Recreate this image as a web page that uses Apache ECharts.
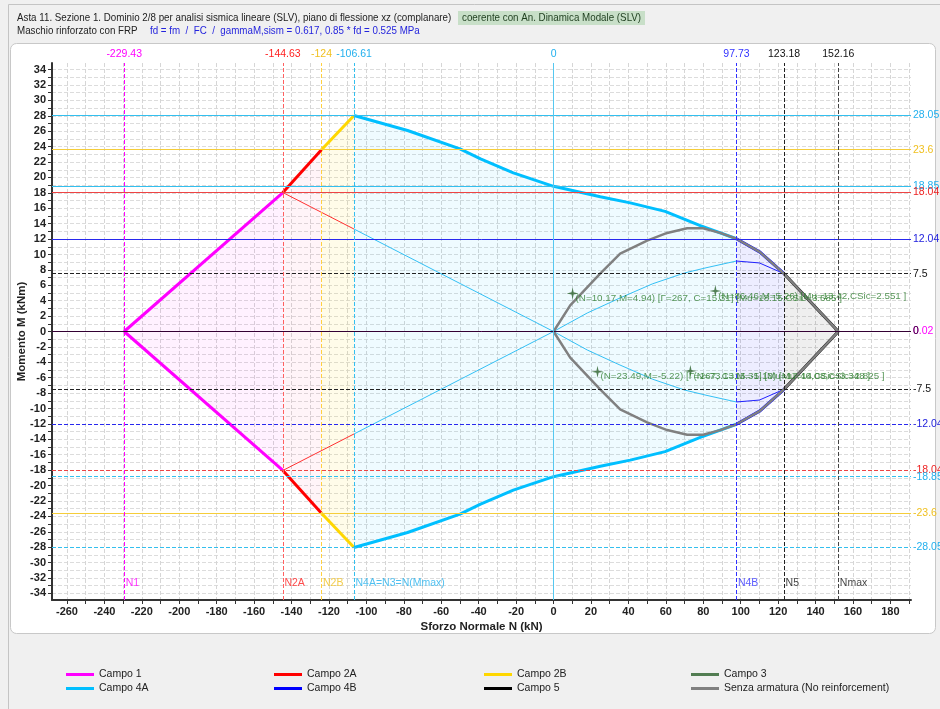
<!DOCTYPE html>
<html><head><meta charset="utf-8">
<script src="https://cdn.jsdelivr.net/npm/echarts@6/dist/echarts.min.js"></script>
<style>html,body{margin:0;padding:0;background:#f0f0f0;}#c{width:940px;height:709px;}</style>
</head><body><div id="c"></div>
<script>
// ---------- data ----------
const campo1Up = [[-229.43, 0], [-144.63, 18.04]];
const campo1Dn = [[-229.43, 0], [-144.63, -18.04]];
const campo2AUp = [[-144.63, 18.04], [-124, 23.6]];
const campo2ADn = [[-144.63, -18.04], [-124, -23.6]];
const campo2BUp = [[-124, 23.6], [-106.61, 28.05]];
const campo2BDn = [[-124, -23.6], [-106.61, -28.05]];
const campo4AUp = [[-106.61, 28.05], [-78, 26.1], [-50, 23.7], [-39, 22.4], [-21.5, 20.6], [0, 18.85], [25, 17.5], [41, 16.7], [59.6, 15.6], [78.4, 13.75], [97.73, 12.04]];
const campo4ADn = [[-106.61, -28.05], [-78, -26.1], [-50, -23.7], [-39, -22.4], [-21.5, -20.6], [0, -18.85], [25, -17.5], [41, -16.7], [59.6, -15.6], [78.4, -13.75], [97.73, -12.04]];
const campo4BUp = [[97.73, 12.04], [110.3, 10.3], [123.18, 7.5]];
const campo4BDn = [[97.73, -12.04], [110.3, -10.3], [123.18, -7.5]];
const campo5Up = [[123.18, 7.5], [152.16, 0]];
const campo5Dn = [[123.18, -7.5], [152.16, 0]];
const noReinfUp = [[0, 0], [8.9, 3.4], [24.9, 7.5], [35.6, 10.1], [50, 11.8], [60.7, 12.8], [71.4, 13.4], [79.9, 13.4], [89, 12.8], [97.73, 12.04], [110.3, 10.3], [123.18, 7.5], [152.16, 0]];
const noReinfDn = [[0, 0], [8.9, -3.4], [24.9, -7.5], [35.6, -10.1], [50, -11.8], [60.7, -12.8], [71.4, -13.4], [79.9, -13.4], [89, -12.8], [97.73, -12.04], [110.3, -10.3], [123.18, -7.5], [152.16, 0]];
const thinRedUp = [[-144.63, 18.04], [-106.61, 13.3]];
const thinRedDn = [[-144.63, -18.04], [-106.61, -13.3]];
const thinCyanUp = [[-106.61, 13.3], [0, 0], [18, 2.4], [35, 4.3], [53, 6.2], [70, 7.6], [82, 8.3], [97.73, 9.15]];
const thinCyanDn = [[-106.61, -13.3], [0, 0], [18, -2.4], [35, -4.3], [53, -6.2], [70, -7.6], [82, -8.3], [97.73, -9.15]];
const thinBlueUp = [[97.73, 9.15], [110, 8.9], [123.18, 7.5]];
const thinBlueDn = [[97.73, -9.15], [110, -8.9], [123.18, -7.5]];

const campo3Points = [[10.17, 4.94], [86.46, 5.26], [23.49, -5.22], [73.13, -5.13]];
const campo3Texts = [
  '(N=10.17,M=4.94) [Γ=267, C=15.31] [Mu=18.15,CSic=3.685 ]',
  '(N=86.46,M=5.26) [Mu=13.42,CSic=2.551 ]',
  '(N=23.49,M=-5.22) [Γ=267, C=15.31] [Mu=17.46,CSic=3.348 ]',
  '(N=73.13,M=-5.13) [Mu=14.08,CSic=2.825 ]'
];

const hVals  = [28.05, 23.6, 18.85, 18.04, 12.04, 7.5, 0.02, 0, -7.5, -12.04, -18.04, -18.85, -23.6, -28.05];
const hLeft  = ['Mu(N4A=N3=N(Mmax))', 'Mu(N2B)', '', 'Mu(N2A)', 'Mu(N4B)', 'Mu(N5)', 'Mu(N1)', 'Mu(Nmax)', 'Mu(N5)', 'Mu(N4B)', 'Mu(N2A)', '', 'Mu(N2B)', 'Mu(N4A=N3=N(Mmin))'];
const hRight = ['28.05', '23.6', '18.85', '18.04', '12.04', '7.5', '0.02', '0', '-7.5', '-12.04', '-18.04', '-18.85', '-23.6', '-28.05'];

const vVals   = [-229.43, -144.63, -124, -106.61, 0, 97.73, 123.18, 152.16];
const vTop    = ['-229.43', '-144.63', '-124', '-106.61', '0', '97.73', '123.18', '152.16'];
const vBottom = ['N1', 'N2A', 'N2B', 'N4A=N3=N(Mmax)', '', 'N4B', 'N5', 'Nmax'];
const vBottomM = -32.7;

const xLabelVals = [-260, -240, -220, -200, -180, -160, -140, -120, -100, -80, -60, -40, -20, 0, 20, 40, 60, 80, 100, 120, 140, 160, 180];
const yLabelVals = [-34, -32, -30, -28, -26, -24, -22, -20, -18, -16, -14, -12, -10, -8, -6, -4, -2, 0, 2, 4, 6, 8, 10, 12, 14, 16, 18, 20, 22, 24, 26, 28, 30, 32, 34];

// ---------- styles ----------
const FONT = '"Liberation Sans", Arial, sans-serif';
const C = {
  mag: '#ff00ff', red: '#ff0000', yel: '#ffd700', cyan: '#00bfff', blue: '#0000ff',
  black: '#000000', green: '#008000', gray: '#808080'
};
const hColor = ['#33bfee', '#f5cd3a', '#33bfee', '#ee4444', '#2828ee', '#222', '#ff00ff', '#330033', '#222', '#2828ee', '#ee4444', '#33bfee', '#f5cd3a', '#33bfee'];
const hText  = ['#22b0ee', '#f0c020', '#22b0ee', '#ee2222', '#2222dd', '#111', '#ff00ff', '#330033', '#111', '#2222dd', '#ee2222', '#22b0ee', '#f0c020', '#22b0ee'];
const hType  = ['solid', 'solid', 'solid', 'solid', 'solid', 'dashed', 'solid', 'solid', 'dashed', 'dashed', 'dashed', 'dashed', 'solid', 'dashed'];
const vColor = ['#ff00ff', '#ff6060', '#ffd040', '#33bfee', '#55c8f0', '#3030ff', '#222', '#444'];
const vText  = ['#ff00ff', '#ff2020', '#f0c020', '#22b0ee', '#22b0ee', '#3333ff', '#111', '#111'];
const vType  = ['dashed', 'dashed', 'dashed', 'dashed', 'solid', 'dashed', 'dashed', 'dashed'];

const xTickVals = [];
for (let v = -260; v <= 190; v += 10) xTickVals.push(v);
const yTickVals = [];
for (let v = -34; v <= 34; v += 1) yTickVals.push(v);

function ln(name, data, color, width, area, z) {
  const s = {
    type: 'line', name, data, showSymbol: false, symbol: 'none', smooth: false, z: z || 2,
    color, lineStyle: { color, width }, silent: true, animation: false
  };
  if (area) s.areaStyle = { color: area, origin: 0 };
  return s;
}

const series = [
  ln('Campo 1', campo1Up, C.mag, 3, 'rgba(255,0,255,0.08)'),
  ln('Campo 1', campo1Dn, C.mag, 3, 'rgba(255,0,255,0.08)'),
  ln('Campo 2A', campo2AUp, C.red, 3, 'rgba(255,60,120,0.08)'),
  ln('Campo 2A', campo2ADn, C.red, 3, 'rgba(255,60,120,0.08)'),
  ln('Campo 2B', campo2BUp, C.yel, 3, 'rgba(255,215,0,0.12)'),
  ln('Campo 2B', campo2BDn, C.yel, 3, 'rgba(255,215,0,0.12)'),
  ln('Campo 4A', campo4AUp, C.cyan, 3, 'rgba(0,191,255,0.09)'),
  ln('Campo 4A', campo4ADn, C.cyan, 3, 'rgba(0,191,255,0.09)'),
  ln('Campo 4B', campo4BUp, C.blue, 3, 'rgba(0,0,255,0.10)'),
  ln('Campo 4B', campo4BDn, C.blue, 3, 'rgba(0,0,255,0.10)'),
  ln('Campo 5', campo5Up, C.black, 3, 'rgba(0,0,0,0.09)'),
  ln('Campo 5', campo5Dn, C.black, 3, 'rgba(0,0,0,0.09)'),
  ln('thinRed', thinRedUp, '#ff3030', 1, null, 3),
  ln('thinRed', thinRedDn, '#ff3030', 1, null, 3),
  ln('thinCyan', thinCyanUp, '#33c0f5', 1, null, 3),
  ln('thinCyan', thinCyanDn, '#33c0f5', 1, null, 3),
  ln('thinBlue', thinBlueUp, '#2020ff', 1, null, 3),
  ln('thinBlue', thinBlueDn, '#2020ff', 1, null, 3),
  ln('Senza armatura (No reinforcement)', noReinfUp, C.gray, 2.5, null, 4),
  ln('Senza armatura (No reinforcement)', noReinfDn, C.gray, 2.5, null, 4),
  {
    type: 'scatter', name: 'Campo 3', color: C.green, z: 6, silent: true, animation: false,
    symbol: 'path://M0,-10 L1.8,-1.8 L10,0 L1.8,1.8 L0,10 L-1.8,1.8 L-10,0 L-1.8,-1.8 Z',
    symbolSize: 12,
    itemStyle: { color: '#2a602a' },
    data: campo3Points.map((p, i) => ({ value: p, label: { formatter: campo3Texts[i] } })),
    label: { show: true, position: 'right', distance: 0, offset: [-3, 5], fontSize: 9.8, color: '#2e7d2e', fontFamily: FONT }
  },
  {
    type: 'line', name: 'refs', data: [], silent: true, animation: false, z: 1,
    markLine: {
      silent: true, animation: false, symbol: ['none', 'none'],
      data: [].concat(
        hVals.map((v, i) => ({
          yAxis: v,
          lineStyle: { color: hColor[i], type: hType[i], width: 1 },
          label: { show: true, position: 'end', distance: 2, formatter: hRight[i], color: hText[i], fontSize: 10.5, fontFamily: FONT }
        })),
        hVals.map((v, i) => ({
          yAxis: v,
          lineStyle: { opacity: 0, width: 0 },
          label: { show: hLeft[i] !== '', position: 'insideStartBottom', distance: [9, 2], formatter: hLeft[i] || ' ', color: hText[i], fontSize: 10.5, fontFamily: FONT }
        })),
        vVals.map((v, i) => ({
          xAxis: v,
          lineStyle: { color: vColor[i], type: vType[i], width: 1 },
          label: { show: true, position: 'end', distance: 3, formatter: vTop[i], color: vText[i], fontSize: 10.5, fontFamily: FONT }
        }))
      )
    }
  },
  {
    type: 'scatter', name: 'vlabels', silent: true, animation: false, z: 5,
    symbolSize: 1, itemStyle: { color: 'rgba(0,0,0,0)' },
    data: vVals.map((v, i) => ({ value: [v, vBottomM], label: { formatter: vBottom[i] || ' ', color: vText[i] } })),
    label: { show: true, position: 'right', distance: 1, fontSize: 10.5, fontFamily: FONT }
  }
];

const legendCommon = {
  orient: 'vertical', icon: 'rect', itemWidth: 28, itemHeight: 3, itemGap: 3,
  selectedMode: false, top: 664,
  textStyle: { fontSize: 10.5, color: '#222', fontFamily: FONT }
};

function hdrText(x, y, text, fill) {
  return { type: 'text', z: 100, silent: true, x, y, scaleX: 0.85, scaleY: 1,
    style: { x: 0, y: 0, text, font: '11.5px ' + FONT, fill, verticalAlign: 'middle' } };
}

const option = {
  animation: false,
  textStyle: { fontFamily: FONT },
  grid: { left: 52, right: 29, top: 63, bottom: 109, containLabel: false },
  xAxis: {
    type: 'value', min: -268, max: 191,
    name: 'Sforzo Normale N (kN)', nameLocation: 'middle', nameGap: 21, nameMoveOverlap: false,
    nameTextStyle: { fontWeight: 'bold', fontSize: 11.5, color: '#222', fontFamily: FONT },
    axisLine: { show: true, onZero: false, lineStyle: { color: '#333', width: 2 } },
    axisTick: { show: true, customValues: xTickVals, length: 4, lineStyle: { color: '#333' } },
    axisLabel: { customValues: xLabelVals, fontWeight: 'bold', fontSize: 11, color: '#222', margin: 6, fontFamily: FONT },
    splitLine: { show: true, lineStyle: { color: '#d6d6d6', type: 'dashed', width: 1 } }
  },
  yAxis: {
    type: 'value', min: -34.86, max: 34.86,
    name: 'Momento M (kNm)', nameLocation: 'middle', nameGap: 24, nameMoveOverlap: false,
    nameTextStyle: { fontWeight: 'bold', fontSize: 11.5, color: '#222', fontFamily: FONT },
    axisLine: { show: true, onZero: false, lineStyle: { color: '#333', width: 2 } },
    axisTick: { show: true, customValues: yTickVals, length: 4, lineStyle: { color: '#333' } },
    axisLabel: { customValues: yLabelVals, fontWeight: 'bold', fontSize: 11, color: '#222', margin: 6, fontFamily: FONT },
    splitLine: { show: true, lineStyle: { color: '#dcdcdc', type: 'dashed', width: 1 } }
  },
  legend: [
    Object.assign({ left: 61, data: ['Campo 1', 'Campo 4A'] }, legendCommon),
    Object.assign({ left: 269, data: ['Campo 2A', 'Campo 4B'] }, legendCommon),
    Object.assign({ left: 479, data: ['Campo 2B', 'Campo 5'] }, legendCommon),
    Object.assign({ left: 686, data: ['Campo 3', 'Senza armatura (No reinforcement)'] }, legendCommon)
  ],
  graphic: [
    { type: 'rect', z: -100, silent: true, shape: { x: 8.5, y: 4.5, width: 940, height: 720 }, style: { fill: '#f0f0f0', stroke: '#c4c4c4', lineWidth: 1 } },
    { type: 'rect', z: -99, silent: true, shape: { x: 10.5, y: 43.5, width: 925, height: 590, r: 6 }, style: { fill: '#ffffff', stroke: '#c8c8c8', lineWidth: 1 } },
    hdrText(17, 18, 'Asta 11. Sezione 1. Dominio 2/8 per analisi sismica lineare (SLV), piano di flessione xz (complanare)', '#222'),
    { type: 'rect', z: 99, silent: true, shape: { x: 458, y: 11, width: 187, height: 14 }, style: { fill: '#c8dfc8' } },
    hdrText(462, 18, 'coerente con An. Dinamica Modale (SLV)', '#1e3e1e'),
    hdrText(17, 31, 'Maschio rinforzato con FRP', '#222'),
    hdrText(150, 31, 'fd = fm  /  FC  /  gammaM,sism = 0.617, 0.85 * fd = 0.525 MPa', '#2424dd')
  ],
  series
};

const chart = echarts.init(document.getElementById('c'), null, { renderer: 'canvas' });
chart.setOption(option);
</script>
</body></html>
